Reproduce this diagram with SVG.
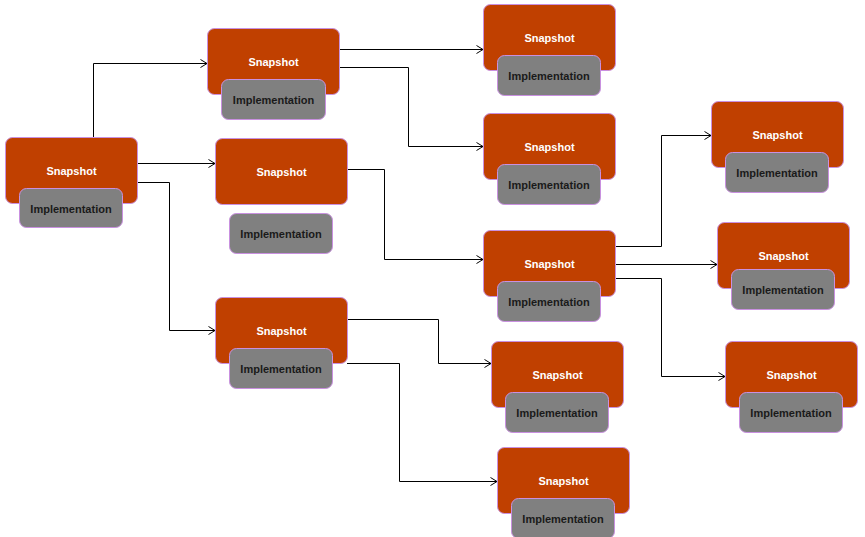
<svg xmlns="http://www.w3.org/2000/svg" width="865" height="537" viewBox="0 0 865 537">
<defs>
<style>
.s{fill:#c04000;stroke:#c990e0;stroke-width:1}
.i{fill:#808080;stroke:#c990e0;stroke-width:1}
.ts{font-family:"Liberation Sans",Arial,sans-serif;font-size:11px;font-weight:bold;fill:#ffffff;text-anchor:middle}
.ti{font-family:"Liberation Sans",Arial,sans-serif;font-size:11px;font-weight:bold;fill:#1a1a1a;text-anchor:middle}
.c{fill:none;stroke:#000;stroke-width:1;marker-end:url(#a)}
</style>
<marker id="a" markerUnits="userSpaceOnUse" markerWidth="10" markerHeight="10" refX="7" refY="4.5" orient="auto" viewBox="0 0 10 10">
<path d="M0.5,0.5 L7,4.5 L0.5,8.5" fill="none" stroke="#000" stroke-width="1"/>
</marker>
</defs>
<rect width="865" height="537" fill="#ffffff"/>
<g id="connectors">
<path class="c" d="M93.5,137 V63.5 H207"/>
<path class="c" d="M137,163.5 H215"/>
<path class="c" d="M137,182.5 H169.5 V330.5 H215"/>
<path class="c" d="M339,49.5 H483"/>
<path class="c" d="M339,67.5 H408.5 V146.5 H483"/>
<path class="c" d="M347,169.5 H384.5 V259.5 H483"/>
<path class="c" d="M347,319.5 H438.5 V363.5 H491"/>
<path class="c" d="M347,363.5 H399.5 V481.5 H497"/>
<path class="c" d="M616,246.5 H661.5 V135.5 H711"/>
<path class="c" d="M616,264.5 H717"/>
<path class="c" d="M616,278.5 H661.5 V376.5 H725"/>
</g>
<g id="n1"><rect class="s" x="5.5" y="137.5" width="132" height="66" rx="7"/><text class="ts" x="71.5" y="175">Snapshot</text><rect class="i" x="19.5" y="188.5" width="103" height="39" rx="7"/><text class="ti" x="71" y="213">Implementation</text></g>
<g id="n2"><rect class="s" x="207.5" y="28.5" width="132" height="66" rx="7"/><text class="ts" x="273.5" y="66">Snapshot</text><rect class="i" x="221.5" y="79.5" width="104" height="40" rx="7"/><text class="ti" x="273.5" y="104">Implementation</text></g>
<g id="n3"><rect class="s" x="215.5" y="138.5" width="132" height="66" rx="7"/><text class="ts" x="281.5" y="176">Snapshot</text><rect class="i" x="229.5" y="213.5" width="103" height="40" rx="7"/><text class="ti" x="281" y="238">Implementation</text></g>
<g id="n4"><rect class="s" x="215.5" y="297.5" width="132" height="66" rx="7"/><text class="ts" x="281.5" y="335">Snapshot</text><rect class="i" x="229.5" y="348.5" width="103" height="40" rx="7"/><text class="ti" x="281" y="373">Implementation</text></g>
<g id="n5"><rect class="s" x="483.5" y="4.5" width="132" height="66" rx="7"/><text class="ts" x="549.5" y="42">Snapshot</text><rect class="i" x="497.5" y="55.5" width="103" height="40" rx="7"/><text class="ti" x="549" y="80">Implementation</text></g>
<g id="n6"><rect class="s" x="483.5" y="113.5" width="132" height="66" rx="7"/><text class="ts" x="549.5" y="151">Snapshot</text><rect class="i" x="497.5" y="164.5" width="103" height="40" rx="7"/><text class="ti" x="549" y="189">Implementation</text></g>
<g id="n7"><rect class="s" x="483.5" y="230.5" width="132" height="66" rx="7"/><text class="ts" x="549.5" y="268">Snapshot</text><rect class="i" x="497.5" y="281.5" width="103" height="40" rx="7"/><text class="ti" x="549" y="306">Implementation</text></g>
<g id="n8"><rect class="s" x="491.5" y="341.5" width="132" height="66" rx="7"/><text class="ts" x="557.5" y="379">Snapshot</text><rect class="i" x="505.5" y="392.5" width="103" height="40" rx="7"/><text class="ti" x="557" y="417">Implementation</text></g>
<g id="n9"><rect class="s" x="497.5" y="447.5" width="132" height="66" rx="7"/><text class="ts" x="563.5" y="485">Snapshot</text><rect class="i" x="511.5" y="498.5" width="103" height="40" rx="7"/><text class="ti" x="563" y="523">Implementation</text></g>
<g id="n10"><rect class="s" x="711.5" y="101.5" width="132" height="66" rx="7"/><text class="ts" x="777.5" y="139">Snapshot</text><rect class="i" x="725.5" y="152.5" width="103" height="40" rx="7"/><text class="ti" x="777" y="177">Implementation</text></g>
<g id="n11"><rect class="s" x="717.5" y="222.5" width="132" height="66" rx="7"/><text class="ts" x="783.5" y="260">Snapshot</text><rect class="i" x="731.5" y="269.5" width="103" height="40" rx="7"/><text class="ti" x="783" y="294">Implementation</text></g>
<g id="n12"><rect class="s" x="725.5" y="341.5" width="132" height="66" rx="7"/><text class="ts" x="791.5" y="379">Snapshot</text><rect class="i" x="739.5" y="392.5" width="103" height="40" rx="7"/><text class="ti" x="791" y="417">Implementation</text></g>
</svg>
